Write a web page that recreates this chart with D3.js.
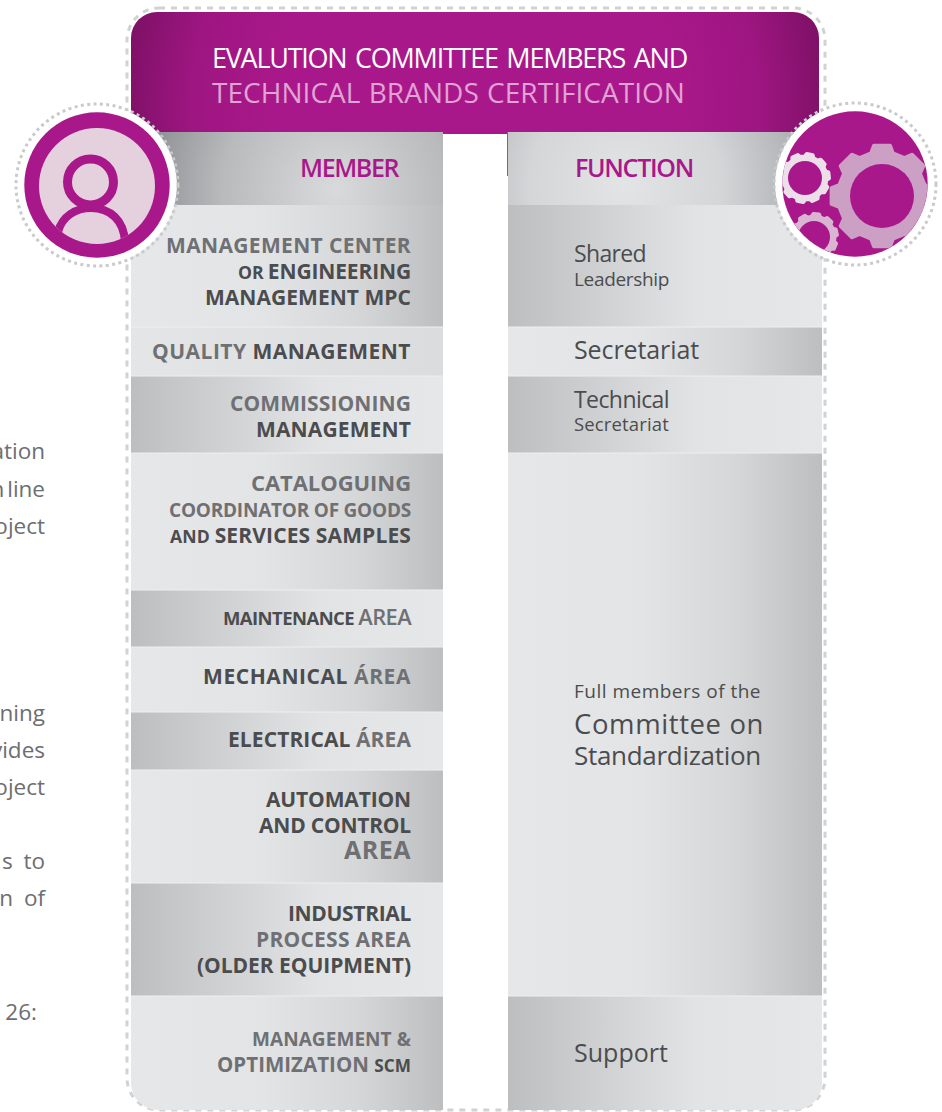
<!DOCTYPE html>
<html>
<head>
<meta charset="utf-8">
<script src="https://d3js.org/d3.v7.min.js"></script>
<style>
  html, body { margin: 0; padding: 0; background: #fff; }
  svg { display: block; font-family: "Open Sans", sans-serif; }
</style>
</head>
<body>
<div id="chart"></div>
<script>
// Data

var titleLines = ["EVALUTION COMMITTEE MEMBERS AND", "TECHNICAL BRANDS CERTIFICATION"];
var columnHeads = ["MEMBER", "FUNCTION"];

// row heights, top to bottom (header row first)
var memberRows = [73, 122, 49, 77, 137, 57, 65, 58, 113, 113, 114];
var functionRows = [73, 122, 49, 77, 543, 114];

// text runs: [text, tone]  d = dark, g = grey, s = small dark, a = large regular grey
var memberLabels = [
    [[["MANAGEMENT CENTER", "g"]], [["OR ", "s"], ["ENGINEERING", "d"]], [["MANAGEMENT MPC", "d"]]],
    [[["QUALITY ", "g"], ["MANAGEMENT", "d"]]],
    [[["COMMISSIONING", "g"]], [["MANAGEMENT", "d"]]],
    [[["CATALOGUING", "g"]], [["COORDINATOR OF GOODS", "g"]], [["AND ", "s"], ["SERVICES SAMPLES", "d"]]],
    [[["MAINTENANCE ", "d"], ["AREA", "a"]]],
    [[["MECHANICAL ", "d"], ["ÁREA", "g"]]],
    [[["ELECTRICAL ", "d"], ["ÁREA", "g"]]],
    [[["AUTOMATION", "d"]], [["AND CONTROL", "d"]], [["AREA", "g"]]],
    [[["INDUSTRIAL", "d"]], [["PROCESS AREA", "g"]], [["(OLDER EQUIPMENT)", "d"]]],
    [[["MANAGEMENT &", "g"]], [["OPTIMIZATION ", "g"], ["SCM", "s"]]]
];

var functionLabels = [
    ["Shared", "Leadership"],
    ["Secretariat"],
    ["Technical", "Secretariat"],
    ["Full members of the", "Committee on", "Standardization"],
    ["Support"]
];

// cut off by the page edge in the source
var sideText = ["ation", "n line", "oject", "ning", "vides", "oject", "s to", "n of", "26:"];

// Layout, kept apart from the data

var width = 942,
    height = 1112;

var memberType = [
    [[253, 21, 245], [279, 21, 173], [305, 21, 206]],
    [[359, 21, 259]],
    [[411, 21, 181], [437, 21, 155]],
    [[491, 22, 160], [517, 19, 242], [543, 21, 241]],
    [[625, 18.5, 188]],
    [[684, 21, 208]],
    [[747, 21, 183]],
    [[807, 21, 145], [833, 21, 152], [859, 25, 67]],
    [[921, 21, 123], [947, 21, 155], [973, 21, 214]],
    [[1046, 19, 159], [1072, 20.5, 194]]
];

var functionType = [
    [[262, 23, 72], [286, 19, 95]],
    [[359, 25, 125]],
    [[408, 23, 95], [431, 18.5, 95]],
    [[698, 19, 187], [734, 27.5, 190], [765, 26, 187]],
    [[1062, 25, 94]]
];

var sideY = [459, 497, 534, 721, 758, 795, 869, 906, 1020];
var sideEnd = [45, 45, 45, 45, 45, 45, 45, 45, 37];
var sideGap = [0, -3, 0, 0, 0, 0, 5, 5, 0];

var memberGrad = ["lr", "flat", "rl", "lr", "rl", "lr", "rl", "lr", "rl", "lr"];
var functionGrad = ["rl", "lr", "rl", "lr", "rl"];

var tones = {
    d: {fill: "#4b4c4e", scale: 1, weight: 700},
    g: {fill: "#6f7073", scale: 1, weight: 700},
    s: {fill: "#4b4c4e", scale: 0.84, weight: 700},
    a: {fill: "#6f7073", scale: 1.18, weight: 600}
};

var magenta = "#a9188a";

var svg = d3.select("#chart").append("svg")
    .attr("width", width)
    .attr("height", height);

var defs = svg.append("defs");

var addLinear = function(id, stops) {
    var g = defs.append("linearGradient").attr("id", id);
    stops.forEach(function(s) {
        g.append("stop").attr("offset", s[0]).attr("stop-color", s[1]);
    });
};

addLinear("lr", [[0, "#e6e7e9"], [0.42, "#e3e4e6"], [0.72, "#d6d7d9"], [1, "#bdbec0"]]);
addLinear("rl", [[0, "#bdbec0"], [0.3, "#d0d1d3"], [0.6, "#e2e3e5"], [1, "#e6e7e9"]]);
addLinear("flat", [[0, "#e4e5e7"], [1, "#dbdcde"]]);

var titleFillGrad = defs.append("radialGradient").attr("id", "title")
    .attr("gradientUnits", "userSpaceOnUse")
    .attr("cx", 475).attr("cy", 105).attr("r", 355);
titleFillGrad.append("stop").attr("offset", 0.55).attr("stop-color", magenta);
titleFillGrad.append("stop").attr("offset", 0.8).attr("stop-color", "#9e1681");
titleFillGrad.append("stop").attr("offset", 1).attr("stop-color", "#7c1065");

var headLeft = defs.append("radialGradient").attr("id", "headLeft")
    .attr("gradientUnits", "userSpaceOnUse")
    .attr("cx", 335).attr("cy", 190).attr("r", 205);
headLeft.append("stop").attr("offset", 0).attr("stop-color", "#d9dadb");
headLeft.append("stop").attr("offset", 0.55).attr("stop-color", "#b8babc");
headLeft.append("stop").attr("offset", 1).attr("stop-color", "#86888b");

var headRight = defs.append("radialGradient").attr("id", "headRight")
    .attr("gradientUnits", "userSpaceOnUse")
    .attr("cx", 625).attr("cy", 185).attr("r", 190);
headRight.append("stop").attr("offset", 0).attr("stop-color", "#e3e4e6");
headRight.append("stop").attr("offset", 0.5).attr("stop-color", "#d5d6d8");
headRight.append("stop").attr("offset", 1).attr("stop-color", "#a8aaad");

defs.append("clipPath").attr("id", "panel")
  .append("rect")
    .attr("x", 131).attr("y", 100)
    .attr("width", 691).attr("height", 1010)
    .attr("rx", 27);

defs.append("clipPath").attr("id", "leftDisc")
  .append("circle").attr("cx", 97).attr("cy", 186).attr("r", 58);

defs.append("clipPath").attr("id", "rightDisc")
  .append("circle").attr("cx", 855).attr("cy", 184).attr("r", 72.5);

// Side text

svg.append("g").selectAll("text")
    .data(sideText)
  .enter().append("text")
    .attr("x", function(d, i) { return sideEnd[i]; })
    .attr("y", function(d, i) { return sideY[i]; })
    .attr("text-anchor", "end")
    .attr("font-size", 22.5)
    .attr("word-spacing", function(d, i) { return sideGap[i]; })
    .attr("fill", "#6d6e71")
    .text(function(d) { return d; });

// Dashed frame

svg.append("rect")
    .attr("x", 127).attr("y", 8)
    .attr("width", 698).attr("height", 1102)
    .attr("rx", 32)
    .attr("fill", "none")
    .attr("stroke", "#d1d2d4")
    .attr("stroke-width", 3)
    .attr("stroke-dasharray", "6 6");

// Title block

svg.append("path")
    .attr("d", "M131,134V38a26,26 0 0 1 26,-26H793a26,26 0 0 1 26,26V134Z")
    .attr("fill", "url(#title)");

// Rows

var y = d3.scaleLinear()
    .domain([0, d3.sum(memberRows)])
    .range([132, 1110]);

var drawRows = function(rows, x0, x1, grads, headFill) {
    var edges = [0].concat(Array.from(d3.cumsum(rows)));
    var g = svg.append("g").attr("clip-path", "url(#panel)");

    g.selectAll("rect")
        .data(rows)
      .enter().append("rect")
        .attr("x", x0)
        .attr("y", function(d, i) { return y(edges[i]); })
        .attr("width", x1 - x0)
        .attr("height", function(d) { return y(d) - y(0); })
        .attr("fill", function(d, i) {
            return i === 0 ? headFill : "url(#" + grads[i - 1] + ")";
        });

    g.selectAll("line")
        .data(edges.slice(2, -1))
      .enter().append("line")
        .attr("x1", x0).attr("x2", x1)
        .attr("y1", function(d) { return y(d); })
        .attr("y2", function(d) { return y(d); })
        .attr("stroke", "#eeeff0")
        .attr("stroke-width", 1);
};

drawRows(memberRows, 131, 443, memberGrad, "url(#headLeft)");
drawRows(functionRows, 508, 822, functionGrad, "url(#headRight)");

svg.append("line")
    .attr("x1", 507.5).attr("x2", 507.5)
    .attr("y1", 132).attr("y2", 176)
    .attr("stroke", "#6f6f72")
    .attr("stroke-width", 1);

// squeeze or open each line to its measured width
var fit = function(sel, target) {
    var node = sel.node();
    var n = node.textContent.length;
    sel.attr("letter-spacing", (target - node.getComputedTextLength()) / n);
};

// Titles

var titleY = [68, 103],
    titleColor = ["#ffffff", "#e0a3d4"],
    titleW = [475, 473],
    titleWeight = [500, 400],
    titleSize = [27, 28],
    titleGap = [3, 1];

svg.append("g").selectAll("text")
    .data(titleLines)
  .enter().append("text")
    .attr("x", 212)
    .attr("y", function(d, i) { return titleY[i]; })
    .attr("font-size", function(d, i) { return titleSize[i]; })
    .attr("font-weight", function(d, i) { return titleWeight[i]; })
    .attr("word-spacing", function(d, i) { return titleGap[i]; })
    .attr("fill", function(d, i) { return titleColor[i]; })
    .text(function(d) { return d; })
    .each(function(d, i) { fit(d3.select(this), titleW[i]); });

var headX = [300, 575],
    headW = [98, 118];

svg.append("g").selectAll("text")
    .data(columnHeads)
  .enter().append("text")
    .attr("x", function(d, i) { return headX[i]; })
    .attr("y", 177)
    .attr("font-size", 25)
    .attr("font-weight", 600)
    .attr("fill", magenta)
    .text(function(d) { return d; })
    .each(function(d, i) { fit(d3.select(this), headW[i]); });

// Member labels

var memberG = svg.append("g").attr("text-anchor", "end");

memberLabels.forEach(function(lines, r) {
    lines.forEach(function(runs, l) {
        var t = memberType[r][l];
        var text = memberG.append("text")
            .attr("x", 411)
            .attr("y", t[0])
            .attr("font-size", t[1]);
        text.selectAll("tspan")
            .data(runs)
          .enter().append("tspan")
            .attr("fill", function(d) { return tones[d[1]].fill; })
            .attr("font-weight", function(d) { return tones[d[1]].weight; })
            .attr("font-size", function(d) { return t[1] * tones[d[1]].scale; })
            .text(function(d) { return d[0]; });
        fit(text, t[2]);
    });
});

// Function labels

var functionG = svg.append("g").attr("fill", "#4b4c4e");

functionLabels.forEach(function(lines, r) {
    lines.forEach(function(label, l) {
        var t = functionType[r][l];
        var text = functionG.append("text")
            .attr("x", 574)
            .attr("y", t[0])
            .attr("font-size", t[1])
            .text(label);
        fit(text, t[2]);
    });
});

// Badges

var badge = function(cx, cy) {
    var g = svg.append("g");
    g.append("circle").attr("cx", cx).attr("cy", cy).attr("r", 80).attr("fill", "#fff");
    g.append("circle").attr("cx", cx).attr("cy", cy).attr("r", 81)
        .attr("fill", "none")
        .attr("stroke", "#c9cacc")
        .attr("stroke-width", 3)
        .attr("stroke-dasharray", "3 3.4");
    g.append("circle").attr("cx", cx).attr("cy", cy).attr("r", 72.7).attr("fill", magenta);
    return g;
};

// Person

var person = badge(97, 185);
person.append("circle")
    .attr("cx", 97).attr("cy", 186).attr("r", 58)
    .attr("fill", "#e5d0dd");

var personG = person.append("g").attr("clip-path", "url(#leftDisc)");
personG.append("path")
    .attr("d", "M58,232C62,216 76,208 91,208C110,208 124,220 125,242")
    .attr("fill", "none")
    .attr("stroke", magenta)
    .attr("stroke-width", 8);
personG.append("circle")
    .attr("cx", 90.5).attr("cy", 182).attr("r", 23)
    .attr("fill", "#e5d0dd")
    .attr("stroke", magenta)
    .attr("stroke-width", 9);

// Gears

var gearLine = d3.lineRadial().curve(d3.curveLinearClosed);

var gearPath = function(teeth, outer, root, phase) {
    var step = 2 * Math.PI / teeth,
        pts = [];
    d3.range(teeth).forEach(function(i) {
        var a = phase + i * step;
        pts.push([a - step * 0.32, root]);
        pts.push([a - step * 0.2, outer]);
        pts.push([a + step * 0.2, outer]);
        pts.push([a + step * 0.32, root]);
    });
    return gearLine(pts);
};

var gears = badge(855, 184).append("g").attr("clip-path", "url(#rightDisc)");

var drawGear = function(cx, cy, teeth, outer, root, hole, phase, fill) {
    var g = gears.append("g").attr("transform", "translate(" + cx + "," + cy + ")");
    g.append("path")
        .attr("d", gearPath(teeth, outer - 2, root, phase))
        .attr("fill", fill)
        .attr("stroke", fill)
        .attr("stroke-width", 4)
        .attr("stroke-linejoin", "round");
    g.append("circle").attr("r", hole).attr("fill", magenta);
};

drawGear(882, 196, 8, 53, 44, 32, 0, "#cc9fc4");
drawGear(805, 178, 10, 26, 21.5, 17, 0.2, "#ecdfea");
drawGear(814, 237, 10, 25, 20.5, 16, 0.1, "#d9b5d2");
</script>
</body>
</html>
